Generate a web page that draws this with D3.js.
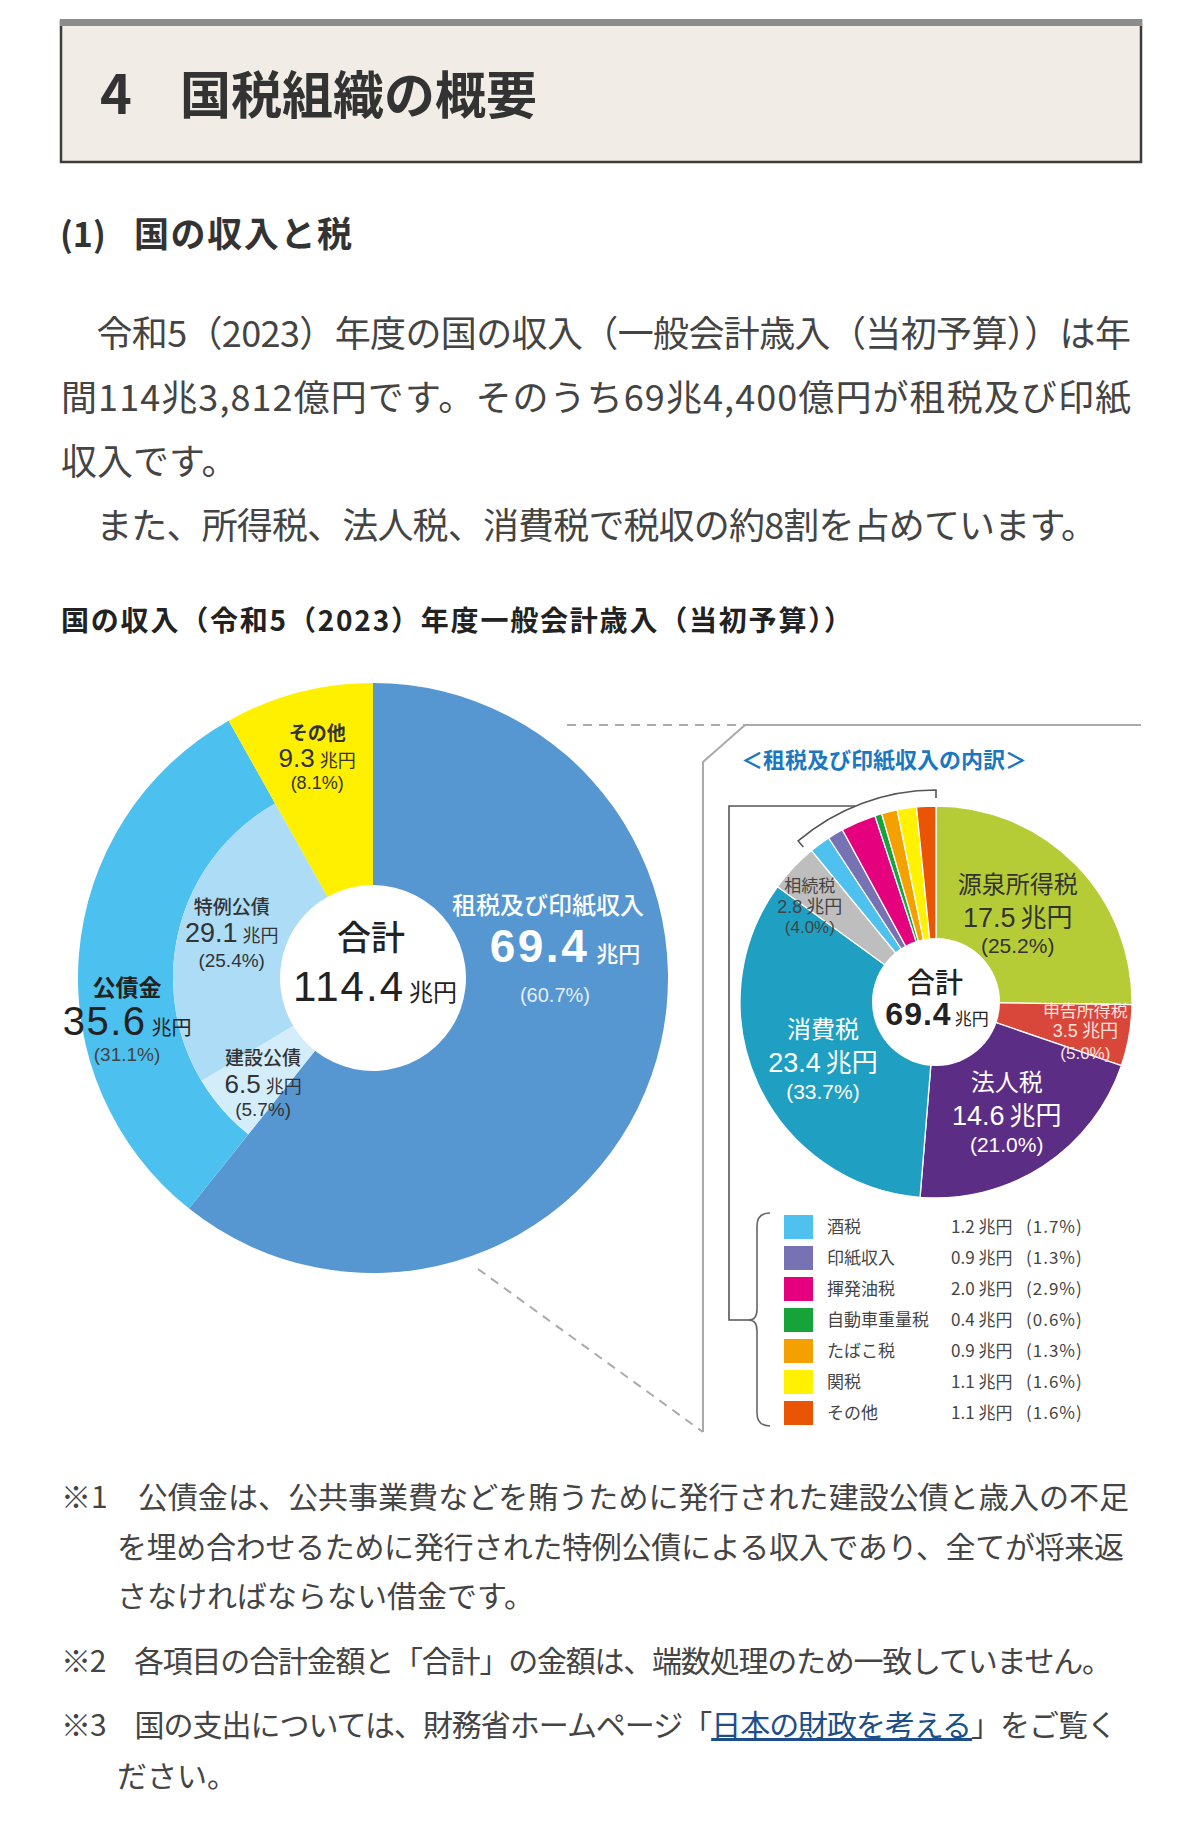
<!DOCTYPE html>
<html><head><meta charset="utf-8">
<script src="https://cdn.jsdelivr.net/npm/d3@7/dist/d3.min.js"></script>
<style>
body{margin:0;background:#fff;}
svg{display:block;font-family:"Noto Sans CJK JP","Noto Sans",sans-serif;}
.lbl{font-family:"Liberation Sans","Noto Sans CJK JP",sans-serif;}
</style>
</head><body>
<svg id="c" width="1200" height="1835"></svg>
<script>
// ---------------- data ----------------
const revenueCategories = ["租税及び印紙収入", "公債金", "その他"];
const revenueValues = [69.4, 35.6, 9.3];
const revenueShares = ["60.7%", "31.1%", "8.1%"];
const bondCategories = ["建設公債", "特例公債"];
const bondValues = [6.5, 29.1];
const bondShares = ["5.7%", "25.4%"];
const revenueTotal = 114.4;

const taxCategories = ["源泉所得税", "申告所得税", "法人税", "消費税", "相続税", "酒税", "印紙収入", "揮発油税", "自動車重量税", "たばこ税", "関税", "その他"];
const taxValues = [17.5, 3.5, 14.6, 23.4, 2.8, 1.2, 0.9, 2.0, 0.4, 0.9, 1.1, 1.1];
const taxShares = ["25.2%", "5.0%", "21.0%", "33.7%", "4.0%", "1.7%", "1.3%", "2.9%", "0.6%", "1.3%", "1.6%", "1.6%"];
const taxTotal = 69.4;
const unitLabel = "兆円";
const legendStart = 5; // taxes listed in the legend start here

// ---------------- styles ----------------
const bigColors = {"租税及び印紙収入": "#5797d1", "公債金": "#4cc0ee", "その他": "#fff000", "建設公債": "#d3edfb", "特例公債": "#acdcf6"};
const taxColors = ["#b6cc36", "#d9473b", "#5c2d84", "#1f9fc1", "#bebebe", "#4fc1ee", "#7672b4", "#e5007e", "#16a33a", "#f4a100", "#fff100", "#e95504"];

const svg = d3.select("#c");

// ---------------- page text ----------------
svg.append("rect").attr("x", 61).attr("y", 21).attr("width", 1080).attr("height", 141)
  .attr("fill", "#f1ede6").attr("stroke", "#3c3c3c").attr("stroke-width", 2.5);
svg.append("rect").attr("x", 60).attr("y", 19).attr("width", 1082).attr("height", 7).attr("fill", "#8c8c8c");
const h1 = svg.append("text").attr("x", 100).attr("y", 114).attr("fill", "#333").attr("font-weight", 700);
h1.append("tspan").attr("font-size", 54).text("4");
h1.append("tspan").attr("x", 180).attr("font-size", 51).text("国税組織の概要");

const h2 = svg.append("text").attr("y", 247).attr("fill", "#333").attr("font-weight", 700);
h2.append("tspan").attr("x", 60).attr("font-size", 34).text("(1)");
h2.append("tspan").attr("x", 134).attr("font-size", 35).attr("textLength", 218).attr("lengthAdjust", "spacing").text("国の収入と税");

const paraLines = [
  {t: "　令和5（2023）年度の国の収入（一般会計歳入（当初予算））は年", y: 347, w: 1070},
  {t: "間114兆3,812億円です。そのうち69兆4,400億円が租税及び印紙", y: 411, w: 1070},
  {t: "収入です。", y: 475},
  {t: "　また、所得税、法人税、消費税で税収の約8割を占めています。", y: 539, w: 1036}
];
paraLines.forEach(l => {
  const t = svg.append("text").attr("x", 61).attr("y", l.y).attr("font-size", 36).attr("fill", "#444").text(l.t);
  if (l.w) t.attr("textLength", l.w).attr("lengthAdjust", "spacing");
});

svg.append("text").attr("x", 61).attr("y", 631).attr("font-size", 28).attr("font-weight", 700).attr("fill", "#222")
  .attr("textLength", 791).attr("lengthAdjust", "spacing")
  .text("国の収入（令和5（2023）年度一般会計歳入（当初予算））");

// ---------------- helpers ----------------
function polar(c, r, angDeg) {
  const a = angDeg * Math.PI / 180;
  return [c.x + r * Math.sin(a), c.y - r * Math.cos(a)];
}
function midDeg(a) { return (a.startAngle + a.endAngle) / 2 * 180 / Math.PI; }
// one <text> per label block: name / value + unit / share
function drawLabel(pos, sp, name, value, share) {
  const [x, y] = pos;
  const t = svg.append("text").attr("class", "lbl").attr("text-anchor", "middle").attr("fill", sp.c);
  t.append("tspan").attr("x", x + (sp.nx || 0)).attr("y", y + sp.ny).attr("font-size", sp.ns).attr("font-weight", sp.nw || 500).text(name);
  t.append("tspan").attr("x", x + (sp.vx || 0)).attr("y", y + sp.vy).attr("font-size", sp.vs).attr("font-weight", sp.vw || 400)
    .attr("letter-spacing", sp.ls || 0).text(value.toFixed(1));
  t.append("tspan").attr("font-size", sp.us).attr("font-weight", sp.uw || 400).attr("letter-spacing", 0).attr("dx", sp.gap || 5).text(unitLabel);
  t.append("tspan").attr("x", x + (sp.px || 0)).attr("y", y + sp.py).attr("font-size", sp.ps).attr("font-weight", 400)
    .attr("fill", sp.pc || sp.c).text(`(${share})`);
}
function drawTotal(c, sp, value) {
  const t = svg.append("text").attr("class", "lbl").attr("text-anchor", "middle").attr("fill", "#222");
  t.append("tspan").attr("x", c.x + sp.tx).attr("y", c.y + sp.ty).attr("font-size", sp.ts).attr("font-weight", 500).text("合計");
  t.append("tspan").attr("x", c.x + sp.vx).attr("y", c.y + sp.vy).attr("font-size", sp.vs).attr("font-weight", sp.vw)
    .attr("letter-spacing", sp.ls).text(value.toFixed(1));
  t.append("tspan").attr("font-size", sp.us).attr("font-weight", 400).attr("letter-spacing", 0).attr("dx", sp.gap).text(unitLabel);
}

// ---------------- big donut ----------------
const bigC = {x: 373, y: 978};
const bigR = 295, bigR0 = 93, bigRMid = 200;
const outerData = revenueCategories.map((c, i) => ({c, v: revenueValues[i], s: revenueShares[i]}));
const outerArcs = d3.pie().sort(null).value(d => d.v)(outerData);
const gBig = svg.append("g").attr("transform", `translate(${bigC.x},${bigC.y})`);
outerArcs.forEach(a => {
  const inner = a.data.c === "公債金" ? bigRMid : bigR0;
  gBig.append("path").attr("d", d3.arc().innerRadius(inner).outerRadius(bigR)(a)).attr("fill", bigColors[a.data.c]);
});
const bondArc = outerArcs.find(a => a.data.c === "公債金");
const bondData = bondCategories.map((c, i) => ({c, v: bondValues[i], s: bondShares[i]}));
const bondArcs = d3.pie().sort(null).value(d => d.v).startAngle(bondArc.startAngle).endAngle(bondArc.endAngle)(bondData);
bondArcs.forEach(a => {
  gBig.append("path").attr("d", d3.arc().innerRadius(bigR0).outerRadius(bigRMid)(a)).attr("fill", bigColors[a.data.c]);
});

const bigLabelLayout = {
  "租税及び印紙収入": {r: 194, da: -27.6, c: "#fff", nx: -17, ny: -36, ns: 24, nw: 500, vs: 46, vw: 700, us: 22, uw: 500, vy: 12, ls: 2.5, ps: 20, py: 52, px: -10, pc: "#e6eff9", gap: 7},
  "その他": {r: 227, da: 0.4, c: "#333", ny: -18, ns: 19, nw: 700, vs: 26, us: 18, vy: 9, ps: 18, py: 31},
  "公債金": {r: 250, da: -15, c: "#222", ny: -27, ns: 23, nw: 700, vs: 40, us: 20, vy: 12, ls: 1.5, ps: 19, py: 38, pc: "#444"},
  "特例公債": {r: 148, da: 2.4, c: "#333", ny: -20, ns: 19, vs: 27, us: 18, vy: 8, ps: 19, py: 33},
  "建設公債": {r: 154, da: -3.3, c: "#333", ny: -21, ns: 19, vs: 26, us: 18, vy: 7, ps: 19, py: 30}
};
outerArcs.concat(bondArcs).forEach(a => {
  const sp = bigLabelLayout[a.data.c];
  drawLabel(polar(bigC, sp.r, midDeg(a) + sp.da), sp, a.data.c, a.data.v, a.data.s);
});
drawTotal(bigC, {tx: -2, ty: -28, ts: 34, vx: 2, vy: 23, vs: 42, vw: 400, ls: 2, us: 24, gap: 4}, revenueTotal);

// ---------------- panel decoration ----------------
const deco = svg.append("g").attr("fill", "none").attr("stroke", "#aaa").attr("stroke-width", 2);
deco.append("line").attr("x1", 567).attr("y1", 725).attr("x2", 745).attr("y2", 725).attr("stroke-dasharray", "9,7");
deco.append("polyline").attr("points", "1141,725 745,725 703,762 703,1432");
deco.append("line").attr("x1", 478).attr("y1", 1269).attr("x2", 703).attr("y2", 1432).attr("stroke-dasharray", "9,7");
svg.append("text").attr("x", 741).attr("y", 768).attr("font-size", 22).attr("font-weight", 700).attr("fill", "#1a78c2")
  .attr("textLength", 286).attr("lengthAdjust", "spacing").text("＜租税及び印紙収入の内訳＞");

// ---------------- small pie ----------------
const smC = {x: 936, y: 1002};
const smR = 196, smR0 = 64;
const taxData = taxCategories.map((c, i) => ({c, v: taxValues[i], s: taxShares[i], col: taxColors[i]}));
const taxArcs = d3.pie().sort(null).value(d => d.v)(taxData);
const gSm = svg.append("g").attr("transform", `translate(${smC.x},${smC.y})`);
gSm.selectAll("path").data(taxArcs).join("path")
  .attr("d", d3.arc().innerRadius(0).outerRadius(smR))
  .attr("fill", d => d.data.col).attr("stroke", "#fff").attr("stroke-width", 1.3);
gSm.append("circle").attr("r", smR0).attr("fill", "#fff");

const taxLabelLayout = {
  "源泉所得税": {r: 117, da: -1.1, c: "#333", ny: -25, ns: 24, nw: 400, vs: 27, us: 26, vy: 9, ps: 21, py: 35},
  "申告所得税": {r: 152, da: 0.8, c: "#fde2dd", ny: -13, ns: 17, nw: 400, vs: 18, us: 18, vy: 7, ps: 17, py: 29, gap: 4},
  "法人税": {r: 133, da: 1.1, c: "#fff", ny: -24, ns: 24, nw: 400, vs: 27, us: 26, vy: 10, ps: 21, py: 37},
  "消費税": {r: 128, da: -3.3, c: "#fff", ny: -24, ns: 24, nw: 400, vs: 27, us: 26, vy: 10, ps: 21, py: 37},
  "相続税": {r: 158, da: -6.3, c: "#444", ny: -15, ns: 17, nw: 400, vs: 18, us: 18, vy: 6, ps: 17, py: 26, gap: 4}
};
taxArcs.forEach(a => {
  const sp = taxLabelLayout[a.data.c];
  if (a.index < legendStart && sp) drawLabel(polar(smC, sp.r, midDeg(a) + sp.da), sp, a.data.c, a.data.v, a.data.s);
});
drawTotal(smC, {tx: -1, ty: -9, ts: 28, vx: 1, vy: 23, vs: 32, vw: 700, ls: 1, us: 17, gap: 3}, taxTotal);

// bracket arc over the small taxes
const brR = 212, brTick = 8;
const brStart = taxArcs[legendStart].startAngle - 0.02, brEnd = 2 * Math.PI;
const bp = d3.path();
const pt = (r, a) => [r * Math.sin(a), -r * Math.cos(a)];
bp.moveTo(...pt(brR - brTick, brStart));
bp.lineTo(...pt(brR, brStart));
bp.arc(0, 0, brR, brStart - Math.PI / 2, brEnd - Math.PI / 2, false);
bp.lineTo(...pt(brR - brTick, brEnd));
gSm.append("path").attr("d", bp.toString()).attr("fill", "none").attr("stroke", "#555").attr("stroke-width", 1.6);

// connector from bracket to legend
const legY0 = 1227, legStep = 31;
const legendItems = taxArcs.slice(legendStart);
const legMid = legY0 + legStep * (legendItems.length - 1) / 2;
const lineY = 806;
const joinX = smC.x - Math.sqrt(brR * brR - (lineY - smC.y) * (lineY - smC.y));
svg.append("polyline").attr("points", `${joinX},${lineY} 729,${lineY} 729,${legMid} 750,${legMid}`)
  .attr("fill", "none").attr("stroke", "#555").attr("stroke-width", 1.6);
const bTop = legY0 - 14, bBot = legY0 + legStep * (legendItems.length - 1) + 13;
svg.append("path").attr("d", `M770,${bTop} Q757,${bTop} 757,${bTop + 13} L757,${legMid - 11} Q757,${legMid} 749,${legMid} Q757,${legMid} 757,${legMid + 11} L757,${bBot - 13} Q757,${bBot} 770,${bBot}`)
  .attr("fill", "none").attr("stroke", "#666").attr("stroke-width", 1.6);

// legend
const leg = svg.append("g");
legendItems.forEach((a, i) => {
  const y = legY0 + i * legStep;
  leg.append("rect").attr("x", 784).attr("y", y - 12).attr("width", 29).attr("height", 24).attr("fill", a.data.col);
  leg.append("text").attr("x", 827).attr("y", y + 6).attr("font-size", 17).attr("fill", "#444").text(a.data.c);
  leg.append("text").attr("x", 951).attr("y", y + 6).attr("font-size", 17).attr("fill", "#444").text(`${a.data.v.toFixed(1)} ${unitLabel}`);
  leg.append("text").attr("x", 1026).attr("y", y + 6).attr("font-size", 17).attr("fill", "#444").attr("letter-spacing", 1).text(`(${a.data.s})`);
});

// ---------------- footnotes ----------------
const notes = [
  {t: "※1　公債金は、公共事業費などを賄うために発行された建設公債と歳入の不足", x: 61, y: 1508, w: 1068},
  {t: "を埋め合わせるために発行された特例公債による収入であり、全てが将来返", x: 117, y: 1558, w: 1007},
  {t: "さなければならない借金です。", x: 117, y: 1607},
  {t: "※2　各項目の合計金額と「合計」の金額は、端数処理のため一致していません。", x: 61, y: 1672, w: 1051}
];
notes.forEach(l => {
  const t = svg.append("text").attr("x", l.x).attr("y", l.y).attr("font-size", 30).attr("fill", "#444").text(l.t);
  if (l.w) t.attr("textLength", l.w).attr("lengthAdjust", "spacing");
});
const n3 = svg.append("text").attr("x", 61).attr("y", 1736).attr("font-size", 30).attr("fill", "#444")
  .attr("textLength", 1056).attr("lengthAdjust", "spacing");
n3.append("tspan").text("※3　国の支出については、財務省ホームページ「");
n3.append("tspan").attr("fill", "#1d4e89").attr("text-decoration", "underline").text("日本の財政を考える");
n3.append("tspan").text("」をご覧く");
svg.append("text").attr("x", 117).attr("y", 1787).attr("font-size", 30).attr("fill", "#444").text("ださい。");
</script>
</body></html>
